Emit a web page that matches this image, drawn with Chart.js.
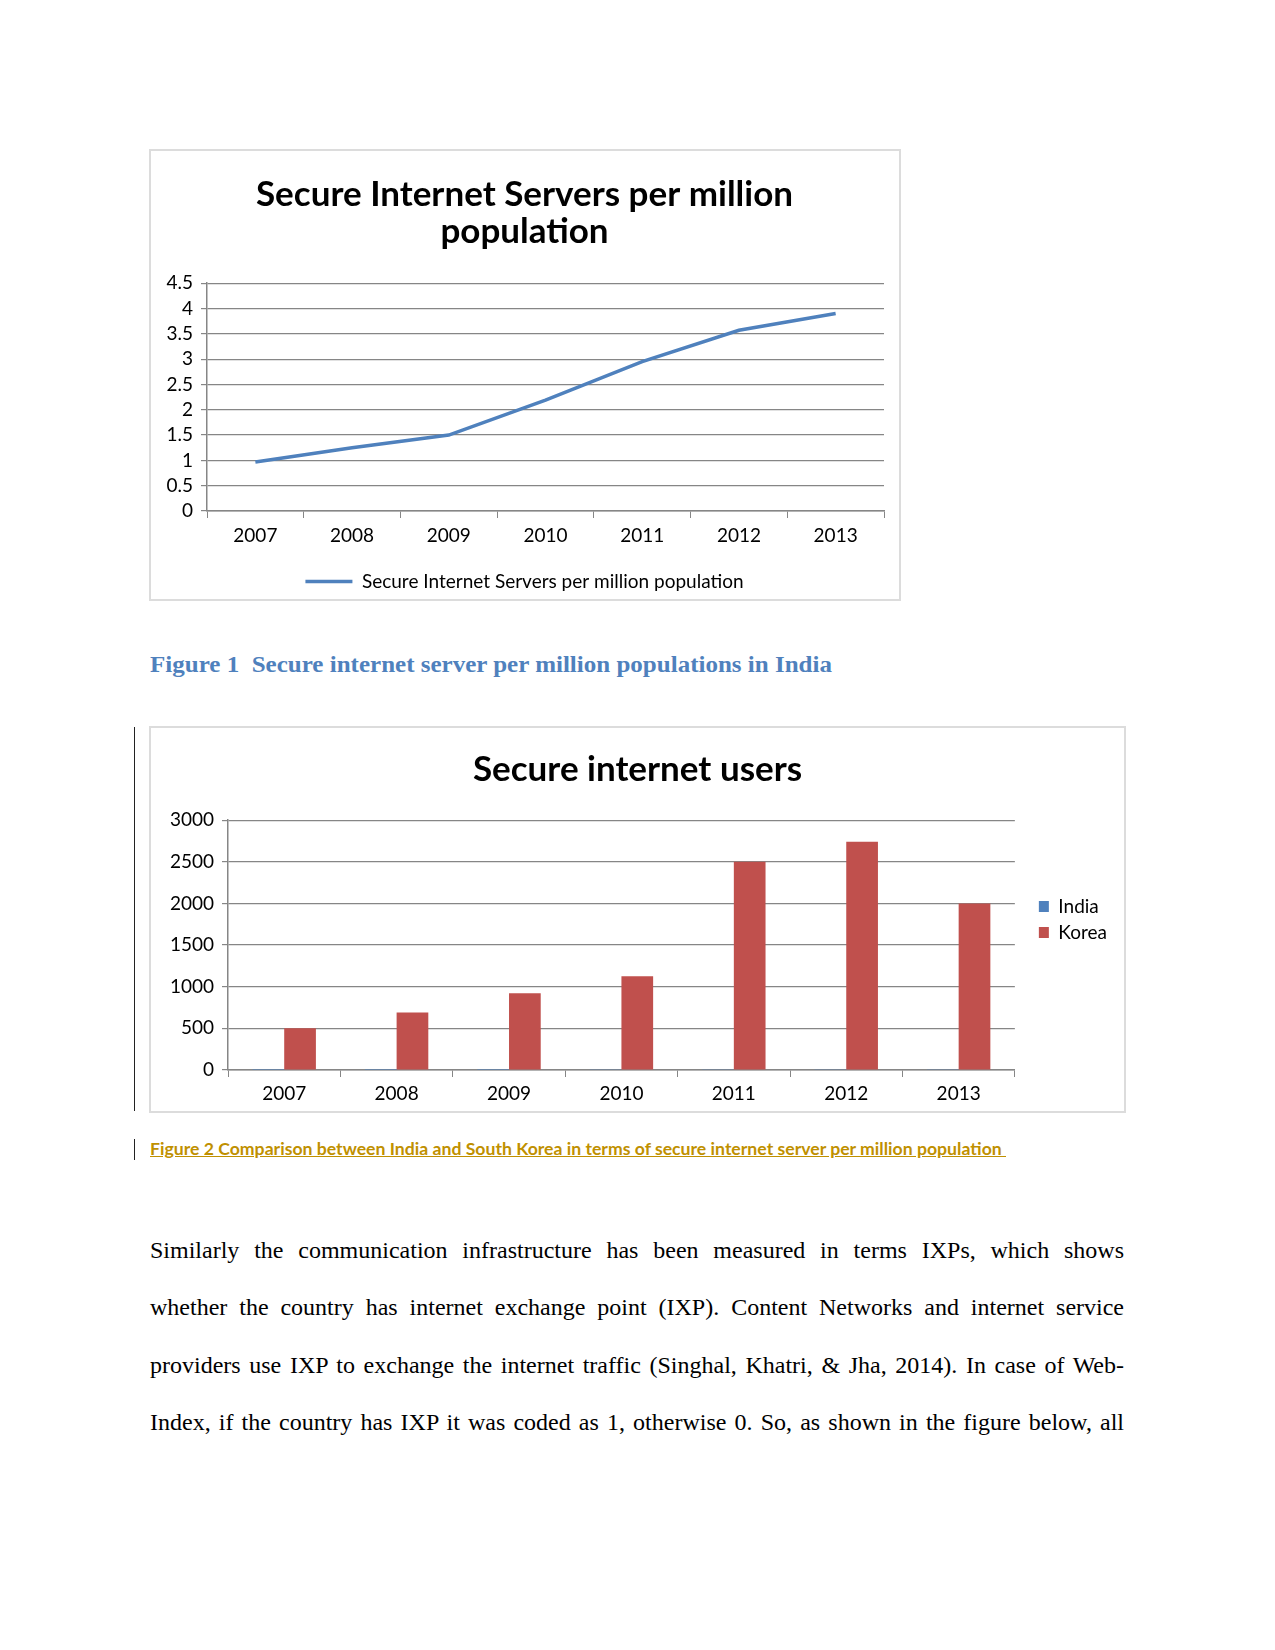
<!DOCTYPE html>
<html>
<head>
<meta charset="utf-8">
<script src="https://cdn.jsdelivr.net/npm/chart.js@4.4.1/dist/chart.umd.min.js"></script>
<style>
  body { margin: 0; background: #fff; width: 1275px; height: 1650px; position: relative; overflow: hidden; }
  .box { position: absolute; border: 2px solid #dcdcdc; box-sizing: border-box; }
  canvas { position: absolute; }
  .txt { position: absolute; white-space: nowrap; transform-origin: 0 50%; }
  .body { font-family: "Liberation Serif", serif; font-size: 24px; color: #000; line-height: 30px; }
  .bar { position: absolute; left: 134px; width: 1px; background: #222; }
</style>
</head>
<body>
<div class="box" style="left:149px;top:149px;width:752px;height:452px"></div>
<canvas id="servers" width="749" height="451" style="left:150px;top:150px"></canvas>

<div class="txt" id="cap1" style="left:150px;top:649px;font:bold 24px 'Liberation Serif',serif;color:#4f81bd;line-height:30px">Figure 1&nbsp; Secure internet server per million populations in India</div>

<div class="bar" style="top:727px;height:384px"></div>
<div class="box" style="left:149px;top:726px;width:977px;height:387px"></div>
<canvas id="users" width="975" height="385" style="left:150px;top:727px"></canvas>

<div class="bar" style="top:1139px;height:21px"></div>
<div class="txt" id="cap2" style="left:150px;top:1137px;font:bold 17px Lato,sans-serif;color:#bf9000;line-height:24px;text-decoration:underline">Figure 2 Comparison between India and South Korea in terms of secure internet server per million population&nbsp;</div>

<div class="txt body" id="l1" style="left:150px;top:1235px">Similarly the communication infrastructure has been measured in terms IXPs, which shows</div>
<div class="txt body" id="l2" style="left:150px;top:1292px">whether the country has internet exchange point (IXP). Content Networks and internet service</div>
<div class="txt body" id="l3" style="left:150px;top:1350px">providers use IXP to exchange the internet traffic (Singhal, Khatri, &amp; Jha, 2014). In case of Web-</div>
<div class="txt body" id="l4" style="left:150px;top:1407px">Index, if the country has IXP it was coded as 1, otherwise 0. So, as shown in the figure below, all</div>

<script>
const years = ['2007', '2008', '2009', '2010', '2011', '2012', '2013'];
const serversIndia = [0.97, 1.25, 1.5, 2.19, 2.95, 3.57, 3.9];
const usersIndia = [0.97, 1.25, 1.5, 2.19, 2.95, 3.57, 3.9];
const usersKorea = [500, 690, 920, 1125, 2500, 2740, 2000];

const serversTitle = ['Secure Internet Servers per million', 'population'];
const serversLabel = 'Secure Internet Servers per million population';
const usersTitle = 'Secure internet users';

const axisGrey = '#868686';
const tickFont = { family: 'Lato', size: 19 };
const titleFont = { family: 'Lato', size: 35, weight: 'bold', lineHeight: 1.06 };
const plainTick = (v) => String(v);

// stretch or squeeze a text line to the width it has in the page
function fitLine(id, target, justify) {
  const el = document.getElementById(id);
  const w = el.getBoundingClientRect().width;
  const spaces = (el.textContent.match(/ /g) || []).length;
  if (justify && w < target && spaces) {
    el.style.wordSpacing = ((target - w) / spaces) + 'px';
  } else {
    el.style.transform = 'scaleX(' + (target / w) + ')';
  }
}

// empty scale used only to leave a fixed gap on the right
function spacer(width) {
  return {
    position: 'right',
    min: 0,
    max: 1,
    grid: { display: false },
    border: { display: false },
    ticks: { display: false },
    afterFit: (axis) => { axis.width = width; },
  };
}

document.fonts.ready.then(() => {
  fitLine('cap1', 682, false);
  fitLine('cap2', 856, false);
  fitLine('l1', 974, true);
  fitLine('l2', 974, true);
  fitLine('l3', 974, true);
  fitLine('l4', 974, true);

  new Chart(document.getElementById('servers'), {
    type: 'line',
    data: {
      labels: years,
      datasets: [{
        label: serversLabel,
        data: serversIndia,
        borderColor: '#4f81bd',
        backgroundColor: '#4f81bd',
        borderWidth: 3.5,
        pointRadius: 0,
        tension: 0,
      }],
    },
    options: {
      responsive: false,
      animation: false,
      devicePixelRatio: 1,
      layout: { padding: 0 },
      plugins: {
        title: {
          display: true,
          text: serversTitle,
          color: '#000',
          font: titleFont,
          padding: { top: 26, bottom: 33 },
        },
        legend: {
          position: 'bottom',
          labels: {
            color: '#000',
            font: { family: 'Lato', size: 19 },
            usePointStyle: true,
            pointStyle: 'line',
            pointStyleWidth: 47,
            padding: 7,
          },
        },
        tooltip: { enabled: false },
      },
      scales: {
        x: {
          offset: true,
          grid: { offset: true, drawOnChartArea: false, color: axisGrey, tickLength: 7 },
          border: { color: axisGrey, width: 1.5 },
          ticks: { color: '#000', font: tickFont, padding: 6 },
          afterFit: (axis) => { axis.height = 54; },
        },
        y: {
          min: 0,
          max: 4.5,
          ticks: { stepSize: 0.5, autoSkip: false, color: '#000', font: tickFont, padding: 8, callback: plainTick },
          grid: { color: axisGrey, lineWidth: 1.2, tickLength: 6 },
          border: { color: axisGrey, width: 1.5 },
          afterFit: (axis) => { axis.width = 57; },
        },
        gap: spacer(15),
      },
    },
  });

  new Chart(document.getElementById('users'), {
    type: 'bar',
    data: {
      labels: years,
      datasets: [
        { label: 'India', data: usersIndia, backgroundColor: '#4f81bd' },
        { label: 'Korea', data: usersKorea, backgroundColor: '#c0504d' },
      ],
    },
    options: {
      responsive: false,
      animation: false,
      devicePixelRatio: 1,
      categoryPercentage: 0.564,
      barPercentage: 1,
      layout: { padding: { left: 8, right: 8, top: 0, bottom: 0 } },
      plugins: {
        title: {
          display: true,
          text: usersTitle,
          color: '#000',
          font: titleFont,
          padding: { top: 24, bottom: 32 },
        },
        legend: {
          position: 'right',
          labels: {
            color: '#000',
            font: { family: 'Lato', size: 19 },
            boxWidth: 10,
            boxHeight: 11,
            padding: 7,
          },
        },
        tooltip: { enabled: false },
      },
      scales: {
        x: {
          grid: { offset: true, drawOnChartArea: false, color: axisGrey, tickLength: 7 },
          border: { color: axisGrey, width: 1.5 },
          ticks: { color: '#000', font: tickFont, padding: 5 },
          afterFit: (axis) => { axis.height = 42; },
        },
        y: {
          min: 0,
          max: 3000,
          ticks: { stepSize: 500, autoSkip: false, color: '#000', font: tickFont, padding: 8, callback: plainTick },
          grid: { color: axisGrey, lineWidth: 1.2, tickLength: 6 },
          border: { color: axisGrey, width: 1.5 },
          afterFit: (axis) => { axis.width = 70; },
        },
        gap: spacer(17),
      },
    },
  });
});
</script>
</body>
</html>
